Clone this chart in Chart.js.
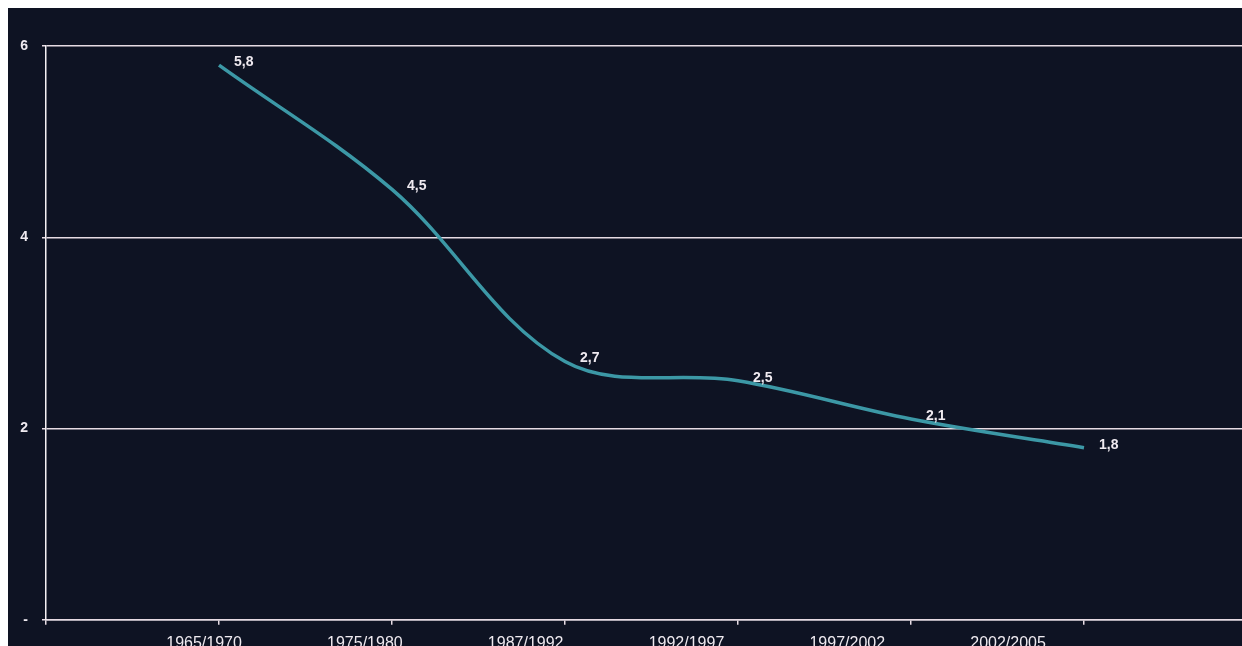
<!DOCTYPE html>
<html>
<head>
<meta charset="utf-8">
<script src="https://cdn.jsdelivr.net/npm/chart.js@4/dist/chart.umd.min.js"></script>
<style>
  html, body { margin: 0; padding: 0; background: #ffffff; overflow: hidden; }
  #wrap { position: absolute; left: 8px; top: 8px; width: 1260px; height: 662px; background: #0e1323; }
</style>
</head>
<body>
<div id="wrap"><canvas id="chart" width="1260" height="662"></canvas></div>
<script>
const categories = ['1965/1970', '1975/1980', '1987/1992', '1992/1997', '1997/2002', '2002/2005'];
const values = [5.8, 4.5, 2.7, 2.5, 2.1, 1.8];
const yTickValues = [0, 2, 4, 6];
const yTickLabels = ['-', '2', '4', '6'];

const FONT = '"Liberation Sans", Arial, sans-serif';
const gridColor = '#e6dbe3';
const textColor = '#efeaf0';

// "5,8" style
const formatValue = v => v.toFixed(1).replace('.', ',');

// value labels to the right of each point
const valueLabels = {
  id: 'valueLabels',
  afterDatasetsDraw(chart) {
    const ctx = chart.ctx;
    const meta = chart.getDatasetMeta(0);
    ctx.save();
    ctx.font = 'bold 14px ' + FONT;
    ctx.fillStyle = textColor;
    ctx.textAlign = 'left';
    ctx.textBaseline = 'middle';
    meta.data.forEach((pt, i) => {
      ctx.fillText(formatValue(values[i]), pt.x + 15, pt.y - 3);
    });
    ctx.restore();
  }
};

new Chart(document.getElementById('chart'), {
  type: 'line',
  data: {
    datasets: [{
      data: values.map((v, i) => ({ x: i + 1, y: v })),
      xAxisID: 'x',
      borderColor: '#3c98a6',
      borderWidth: 3.5,
      tension: 0.35,
      pointRadius: 0,
      fill: false
    }]
  },
  options: {
    responsive: false,
    animation: false,
    devicePixelRatio: 1,
    layout: { padding: { top: 38, right: 11, bottom: 8, left: 0 } },
    plugins: { legend: { display: false }, tooltip: { enabled: false } },
    scales: {
      x: {
        type: 'linear',
        position: 'bottom',
        weight: 0,
        min: 0,
        max: categories.length + 1,
        grid: { drawOnChartArea: false, drawTicks: true, tickLength: 5, color: gridColor, lineWidth: 1.5 },
        border: { color: gridColor, width: 1.5 },
        ticks: { display: false, stepSize: 1 }
      },
      // category names sit on their own axis, spaced a little tighter than the points
      xLabels: {
        type: 'linear',
        position: 'bottom',
        weight: 1,
        min: -0.983,
        max: 6.548,
        grid: { display: false, drawTicks: false },
        border: { display: false },
        ticks: {
          stepSize: 1,
          autoSkip: false,
          maxRotation: 0,
          padding: 9,
          color: textColor,
          font: { family: FONT, size: 16 },
          callback: v => (Number.isInteger(v) && categories[v]) ? categories[v] : ''
        }
      },
      y: {
        min: 0,
        max: 6,
        afterFit: s => { s.width = 38; },
        afterBuildTicks: s => { s.ticks = yTickValues.map(v => ({ value: v })); },
        grid: { color: gridColor, lineWidth: 1.5, tickLength: 4 },
        border: { color: '#f4f0f4', width: 1.5 },
        ticks: {
          padding: 14,
          color: textColor,
          font: { family: FONT, size: 14, weight: 'bold' },
          callback: v => yTickLabels[yTickValues.indexOf(v)]
        }
      }
    }
  },
  plugins: [valueLabels]
});
</script>
</body>
</html>
